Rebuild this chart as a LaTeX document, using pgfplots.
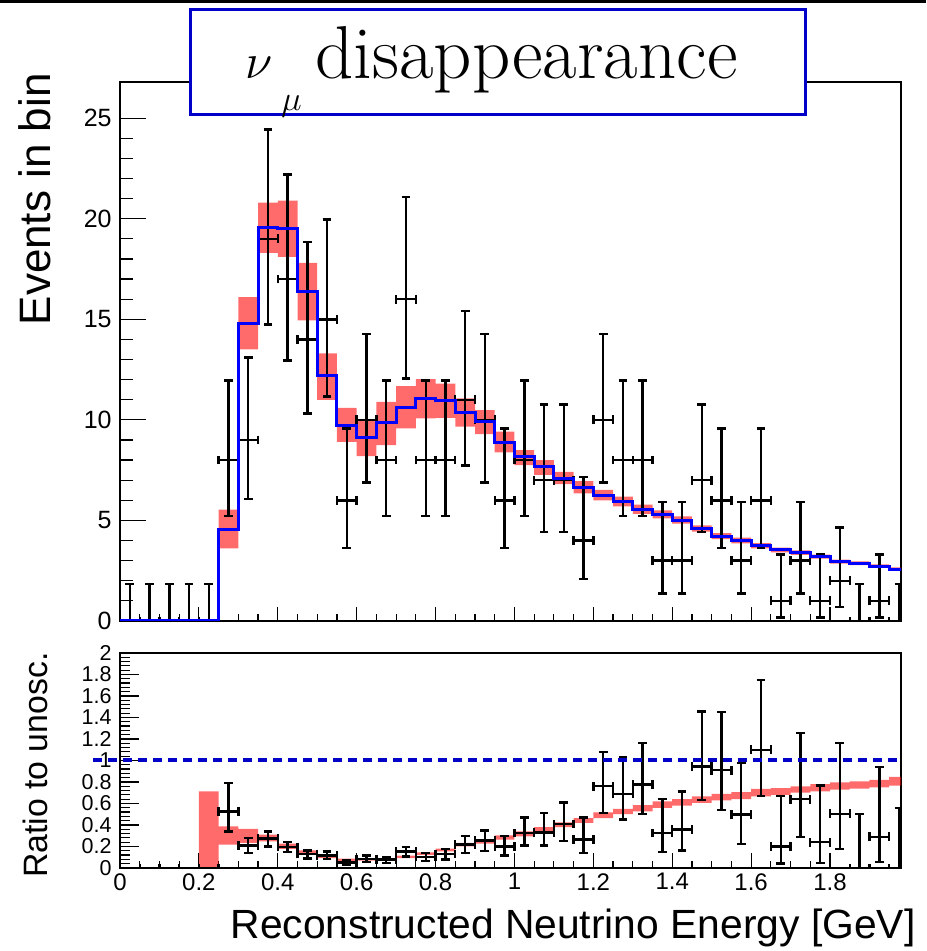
\documentclass[border=0pt]{standalone}
\usepackage{fontspec}
\setsansfont{Liberation Sans}
\usepackage{pgfplots}
\usepackage{pgfplotstable}
\pgfplotsset{compat=1.18}
\usepgfplotslibrary{fillbetween}

\definecolor{hblue}{RGB}{0,0,255}
\definecolor{dblue}{RGB}{0,0,200}

% predicted (oscillated) spectrum, bin left edges
\pgfplotstableread{
x y
0.00 0
0.05 0
0.10 0
0.15 0
0.20 0
0.25 4.55
0.30 14.79
0.35 19.55
0.40 19.50
0.45 16.40
0.50 12.20
0.55 9.73
0.60 9.14
0.65 9.85
0.70 10.60
0.75 11.07
0.80 10.95
0.85 10.35
0.90 9.90
0.95 8.88
1.00 8.17
1.05 7.67
1.10 7.09
1.15 6.64
1.20 6.26
1.25 5.93
1.30 5.55
1.35 5.30
1.40 5.02
1.45 4.60
1.50 4.22
1.55 4.00
1.60 3.74
1.65 3.53
1.70 3.40
1.75 3.20
1.80 2.95
1.85 2.87
1.90 2.73
1.95 2.58
2.00 2.58
}\predup

% systematic band of the prediction
\pgfplotstableread{
x lo hi
0.25 3.61 5.54
0.30 13.50 16.10
0.35 18.30 20.80
0.40 18.10 20.90
0.45 14.95 17.80
0.50 11.00 13.30
0.55 8.90 10.60
0.60 8.20 10.00
0.65 8.75 10.90
0.70 9.58 11.68
0.75 10.07 12.03
0.80 10.10 11.80
0.85 9.66 11.07
0.90 9.29 10.49
0.95 8.38 9.41
1.00 7.75 8.50
1.05 7.26 8.00
1.10 6.81 7.42
1.15 6.35 6.95
1.20 6.00 6.52
1.25 5.70 6.18
1.30 5.33 5.78
1.35 5.10 5.50
1.40 4.84 5.20
1.45 4.44 4.76
1.50 4.07 4.37
1.55 3.86 4.14
1.60 3.61 3.87
1.65 3.41 3.65
1.70 3.29 3.51
1.75 3.10 3.30
1.80 2.85 3.05
1.85 2.78 2.96
1.90 2.64 2.82
1.95 2.49 2.67
2.00 2.49 2.67
}\bandup

% observed events with Poisson intervals
\pgfplotstableread{
x y elo ehi
0.025 0 0 1.84
0.075 0 0 1.84
0.125 0 0 1.84
0.175 0 0 1.84
0.225 0 0 1.84
0.275 8 2.77 3.95
0.325 9 2.94 4.11
0.375 19 4.26 5.43
0.425 17 4.05 5.20
0.475 14 3.69 4.83
0.525 15 3.83 4.96
0.575 6 2.38 3.58
0.625 10 3.11 4.27
0.675 8 2.77 3.95
0.725 16 3.94 5.08
0.775 8 2.77 3.95
0.825 8 2.77 3.95
0.875 11 3.27 4.42
0.925 10 3.11 4.27
0.975 6 2.38 3.58
1.025 8 2.77 3.95
1.075 7 2.58 3.77
1.125 7 2.58 3.77
1.175 4 1.91 3.16
1.225 10 3.11 4.27
1.275 8 2.77 3.95
1.325 8 2.77 3.95
1.375 3 1.63 2.92
1.425 3 1.63 2.92
1.475 7 2.58 3.77
1.525 6 2.38 3.58
1.575 3 1.63 2.92
1.625 6 2.38 3.58
1.675 1 0.83 2.30
1.725 3 1.63 2.92
1.775 1 0.83 2.30
1.825 2 1.29 2.64
1.875 0 0 1.84
1.925 1 0.83 2.30
1.975 0 0 1.84
}\dataup

% ratio of the prediction to the unoscillated one
\pgfplotstableread{
x lo hi
0.20 0.000 0.713
0.25 0.217 0.388
0.30 0.233 0.363
0.35 0.248 0.310
0.40 0.177 0.226
0.45 0.124 0.164
0.50 0.093 0.130
0.55 0.059 0.087
0.60 0.068 0.093
0.65 0.070 0.093
0.70 0.093 0.115
0.75 0.121 0.146
0.80 0.155 0.180
0.85 0.200 0.233
0.90 0.226 0.264
0.95 0.264 0.304
1.00 0.295 0.340
1.05 0.335 0.380
1.10 0.380 0.425
1.15 0.420 0.465
1.20 0.465 0.518
1.25 0.500 0.550
1.30 0.527 0.586
1.35 0.560 0.620
1.40 0.580 0.640
1.45 0.605 0.667
1.50 0.630 0.690
1.55 0.640 0.705
1.60 0.667 0.735
1.65 0.680 0.744
1.70 0.700 0.760
1.75 0.713 0.780
1.80 0.730 0.797
1.85 0.738 0.806
1.90 0.750 0.820
1.95 0.766 0.847
2.00 0.766 0.847
}\bandlo

% ratio of data to the unoscillated prediction
\pgfplotstableread{
x y elo ehi
0.025 0 0 0
0.075 0 0 0
0.125 0 0 0
0.175 0 0 0
0.225 0 0 0
0.275 0.527 0.187 0.263
0.325 0.210 0.070 0.070
0.375 0.273 0.073 0.067
0.425 0.195 0.045 0.045
0.475 0.130 0.043 0.034
0.525 0.118 0.034 0.037
0.575 0.053 0.023 0.017
0.625 0.084 0.031 0.031
0.675 0.078 0.031 0.022
0.725 0.152 0.044 0.043
0.775 0.102 0.037 0.038
0.825 0.130 0.052 0.047
0.875 0.217 0.077 0.078
0.925 0.254 0.094 0.096
0.975 0.200 0.085 0.095
1.025 0.326 0.116 0.144
1.075 0.330 0.120 0.180
1.125 0.410 0.160 0.200
1.175 0.264 0.124 0.206
1.225 0.760 0.250 0.320
1.275 0.690 0.240 0.340
1.325 0.775 0.270 0.385
1.375 0.326 0.176 0.314
1.425 0.357 0.193 0.353
1.475 0.946 0.316 0.508
1.525 0.910 0.370 0.540
1.575 0.496 0.270 0.481
1.625 1.100 0.433 0.650
1.675 0.200 0.160 0.467
1.725 0.640 0.350 0.616
1.775 0.240 0.193 0.526
1.825 0.505 0.328 0.658
1.875 0.000 0.000 0.502
1.925 0.290 0.237 0.650
1.975 0.000 0.000 0.560
}\datalo

\pgfplotsset{
  rootframe/.style={
    scale only axis, width=390.5pt, anchor=south west,
    xmin=0, xmax=1.98,
    axis line style={line width=0.7pt},
    tick align=inside, tick pos=left,
    every tick/.style={black, line width=0.6pt},
    xtick={0,0.2,0.4,0.6,0.8,1,1.2,1.4,1.6,1.8},
    minor x tick num=3,
    /pgf/number format/assume math mode=true,
  },
  databars/.style={draw=none, mark=none,
    error bars/.cd, x dir=both, x fixed=0.025, y dir=both, y explicit,
    error bar style={line width=1.2pt, draw=black},
    error mark options={rotate=90, line width=1.2pt, mark size=2.2pt, draw=black}},
}

\begin{document}
\begin{tikzpicture}
\fill[black] (0,474pt) rectangle (463pt,475.5pt);

% upper panel
\begin{axis}[rootframe, at={(60pt,165pt)}, height=269.5pt,
  ymin=0, ymax=26.8, ytick={0,5,10,15,20,25}, minor y tick num=4,
  xticklabels={},
  xtick style={/pgfplots/major tick length=7pt, /pgfplots/minor tick length=3.5pt},
  ytick style={/pgfplots/major tick length=13pt, /pgfplots/minor tick length=6.5pt},
  yticklabel style={font=\sffamily\fontsize{12.5}{12.5}\selectfont, inner sep=0pt, xshift=-4pt},
  ylabel={Events in bin},
  every axis y label/.style={at={(axis description cs:-0.0896,1.0167)}, rotate=90, anchor=base east,
    inner sep=0pt, font=\sffamily\fontsize{22}{22}\selectfont},
]
\addplot[databars] table[x=x, y=y, y error plus=ehi, y error minus=elo] \dataup;
\addplot[name path=bu, draw=none, const plot mark left, forget plot] table[x=x, y=hi] \bandup;
\addplot[name path=bl, draw=none, const plot mark left, forget plot] table[x=x, y=lo] \bandup;
\addplot[fill=red, fill opacity=0.58, draw=none] fill between[of=bu and bl];
\addplot[hblue, line width=1.5pt, const plot mark left] table[x=x, y=y] \predup;
\end{axis}

% lower panel
\begin{axis}[rootframe, at={(60pt,41.5pt)}, height=107.5pt,
  ymin=0, ymax=2, ytick={0,0.2,0.4,0.6,0.8,1,1.2,1.4,1.6,1.8,2},
  yticklabels={0,0.2,0.4,0.6,0.8,1,1.2,1.4,1.6,1.8,2},
  minor y tick num=4,
  xticklabels={0,0.2,0.4,0.6,0.8,1,1.2,1.4,1.6,1.8},
  xtick style={/pgfplots/major tick length=7.5pt, /pgfplots/minor tick length=3.5pt},
  ytick style={/pgfplots/major tick length=9.5pt, /pgfplots/minor tick length=5pt},
  yticklabel style={font=\sffamily\fontsize{10.75}{10.75}\selectfont, inner sep=0pt, xshift=-4pt},
  xticklabel style={font=\sffamily\fontsize{12}{12}\selectfont, inner sep=0pt, yshift=-2.5pt},
  ylabel={Ratio to unosc.},
  every axis y label/.style={at={(axis description cs:-0.0934,1.0047)}, rotate=90, anchor=base east,
    inner sep=0pt, font=\sffamily\fontsize{16.9}{16.9}\selectfont},
  xlabel={Reconstructed Neutrino Energy [GeV]},
  every axis x label/.style={at={(axis description cs:1.0192,-0.3256)}, anchor=base east,
    inner sep=0pt, font=\sffamily\fontsize{20.4}{20.4}\selectfont},
]
\addplot[databars] table[x=x, y=y, y error plus=ehi, y error minus=elo] \datalo;
\addplot[name path=ru, draw=none, const plot mark left, forget plot] table[x=x, y=hi] \bandlo;
\addplot[name path=rl, draw=none, const plot mark left, forget plot] table[x=x, y=lo] \bandlo;
\addplot[fill=red, fill opacity=0.58, draw=none] fill between[of=ru and rl];
\end{axis}

% unity line, reaching past the frame on the left
\begin{axis}[at={(60pt,41.5pt)}, anchor=south west, scale only axis,
  width=390.5pt, height=107.5pt, xmin=0, xmax=1.98, ymin=0, ymax=2,
  hide axis, clip=false]
\addplot[dblue, line width=2pt, dash pattern=on 4.5pt off 3pt] coordinates {(-0.068,1) (1.98,1)};
\end{axis}

% title box
\draw[dblue, line width=1.5pt, fill=white] (95pt,418pt) rectangle (402.5pt,470.5pt);
\node[inner sep=0pt, anchor=base west] at (122.5pt,436pt) {\fontsize{37}{37}\selectfont$\nu$};
\node[inner sep=0pt, anchor=base west] at (140.5pt,420pt) {\fontsize{18}{18}\selectfont$\mu$};
\node[inner sep=0pt, anchor=base west] at (157.5pt,436pt) {\fontsize{37.5}{37.5}\selectfont disappearance};
\pgfresetboundingbox
\path[use as bounding box] (0,0) rectangle (463pt,475.5pt);
\end{tikzpicture}
\end{document}
